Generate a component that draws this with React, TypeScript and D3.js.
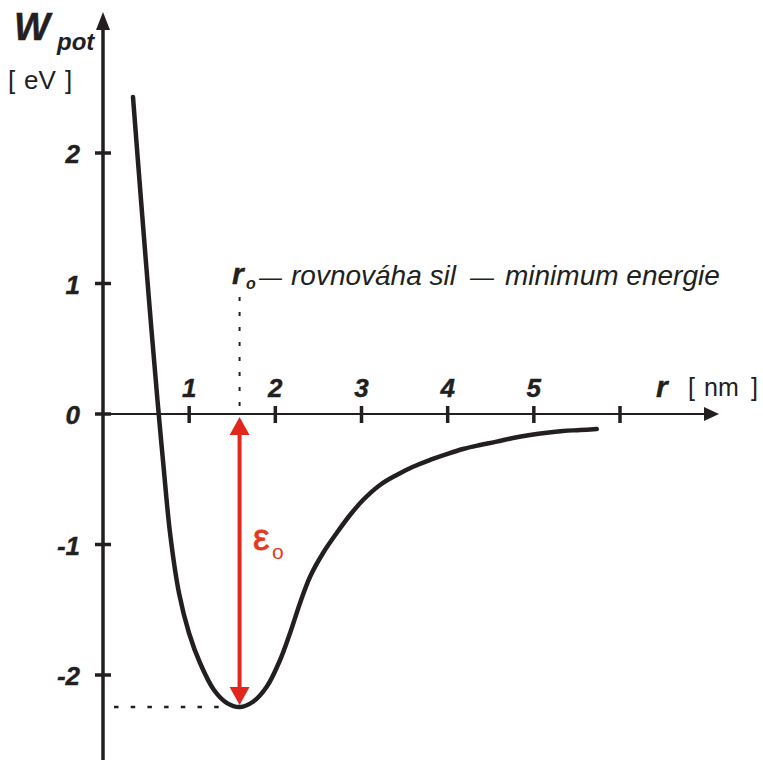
import React from "react";
import * as d3 from "d3";

// Potential energy curve W_pot(r)
const rValues = [0.348, 0.441, 0.534, 0.632, 0.702, 0.778, 0.882, 0.998, 1.126, 1.288, 1.439, 1.59, 1.741, 1.9, 2.055, 2.171, 2.287, 2.403, 2.554, 2.712, 2.867, 3.018, 3.215, 3.409, 3.598, 3.795, 3.989, 4.178, 4.375, 4.569, 4.758, 4.956, 5.15, 5.339, 5.536, 5.73];
const wValues = [2.429, 1.64, 0.874, 0.107, -0.398, -0.912, -1.372, -1.678, -1.908, -2.115, -2.215, -2.245, -2.205, -2.09, -1.885, -1.678, -1.448, -1.247, -1.065, -0.912, -0.774, -0.659, -0.544, -0.467, -0.404, -0.352, -0.307, -0.268, -0.238, -0.212, -0.184, -0.161, -0.143, -0.13, -0.123, -0.115];

const xTicks = [1, 2, 3, 4, 5, 6];
const xTickLabels = ["1", "2", "3", "4", "5", ""];
const yTicks = [2, 1, 0, -1, -2];
const yTickLabels = ["2", "1", "0", "-1", "-2"];

const r0 = 1.585;
const wMin = -2.245;

const INK = "#231f20";
const RED = "#e2271e";
const FONT = "'Liberation Sans', Arial, sans-serif";

export default function App() {
  const x = d3.scaleLinear().domain([0, 6]).range([103, 620]);
  const y = d3.scaleLinear().domain([-2, 2]).range([675, 153]);

  const pts: [number, number][] = rValues.map((r, i) => [r, wValues[i]]);
  const line = d3
    .line<[number, number]>()
    .x((d) => x(d[0]))
    .y((d) => y(d[1]))
    .curve(d3.curveCatmullRom.alpha(0.5));

  const x0 = x(0);
  const y0 = y(0);
  const ax = x(r0);
  const yTop = y0 + 3;
  const yBot = y(wMin) - 2;
  const ah = 18;
  const aw = 10;

  return (
    <svg
      width={763}
      height={762}
      style={{ position: "absolute", left: 0, top: 0, background: "#fff" }}
      fontFamily={FONT}
    >
      {/* y axis */}
      <line x1={x0} y1={760} x2={x0} y2={26} stroke={INK} strokeWidth={3.5} />
      <polygon points={`${x0},12 ${x0 - 7},30 ${x0 + 7},30`} fill={INK} />
      {/* x axis */}
      <line x1={x0} y1={y0} x2={708} y2={y0} stroke={INK} strokeWidth={2.2} />
      <polygon points={`719,${y0} 704,${y0 - 7} 704,${y0 + 7}`} fill={INK} />

      {/* y ticks */}
      {yTicks.map((t, i) => (
        <g key={"yt" + t}>
          <line x1={x0 - 8} x2={x0 + 8} y1={y(t)} y2={y(t)} stroke={INK} strokeWidth={3.5} />
          <text
            x={80}
            y={y(t) + 10}
            textAnchor="end"
            fontSize={26}
            fontWeight="bold"
            fontStyle="italic"
            fill={INK}
            stroke={INK}
            strokeWidth={0.4}
          >
            {yTickLabels[i]}
          </text>
        </g>
      ))}

      {/* x ticks */}
      {xTicks.map((t, i) => (
        <g key={"xt" + t}>
          <line x1={x(t)} x2={x(t)} y1={y0 - 8} y2={y0 + 9} stroke={INK} strokeWidth={3.5} />
          <text
            x={x(t)}
            y={397}
            textAnchor="middle"
            fontSize={26}
            fontWeight="bold"
            fontStyle="italic"
            fill={INK}
            stroke={INK}
            strokeWidth={0.4}
          >
            {xTickLabels[i]}
          </text>
        </g>
      ))}

      {/* dotted guides */}
      <line x1={ax} x2={ax} y1={297} y2={412} stroke={INK} strokeWidth={2} strokeDasharray="4 11" />
      <line x1={114} x2={226} y1={y(wMin)} y2={y(wMin)} stroke={INK} strokeWidth={2.5} strokeDasharray="4.5 12.2" />

      {/* curve */}
      <path d={line(pts) || ""} fill="none" stroke={INK} strokeWidth={4.5} strokeLinecap="round" />

      {/* red double arrow */}
      <line x1={ax} x2={ax} y1={yTop + ah - 2} y2={yBot - ah + 2} stroke={RED} strokeWidth={4} />
      <polygon points={`${ax},${yTop} ${ax - aw},${yTop + ah} ${ax + aw},${yTop + ah}`} fill={RED} />
      <polygon points={`${ax},${yBot} ${ax - aw},${yBot - ah} ${ax + aw},${yBot - ah}`} fill={RED} />
      <text x={253} y={550} fontSize={37} fill="#e33a1f" stroke="#e33a1f" strokeWidth={0.8}>
        ε
      </text>
      <text x={272} y={559} fontSize={21} fill="#e33a1f">
        o
      </text>

      {/* axis titles */}
      <text x={14} y={40} fontSize={38} fontWeight="bold" fontStyle="italic" fill={INK} stroke={INK} strokeWidth={0.5}>
        W
      </text>
      <text x={57} y={50} fontSize={24} fontWeight="bold" fontStyle="italic" fill={INK}>
        pot
      </text>
      <text x={8} y={89} fontSize={26} fill={INK}>
        [
      </text>
      <text x={24} y={89} fontSize={26} fill={INK}>
        eV
      </text>
      <text x={65} y={89} fontSize={26} fill={INK}>
        ]
      </text>

      <text x={656} y={397} fontSize={30} fontWeight="bold" fontStyle="italic" fill={INK} stroke={INK} strokeWidth={0.4}>
        r
      </text>
      <text x={688} y={396} fontSize={25} fill={INK}>
        [
      </text>
      <text x={704} y={396} fontSize={25} fill={INK}>
        nm
      </text>
      <text x={751} y={396} fontSize={25} fill={INK}>
        ]
      </text>

      {/* annotation */}
      <text x={232} y={284} fontSize={30} fontWeight="bold" fontStyle="italic" fill={INK} stroke={INK} strokeWidth={0.4}>
        r
      </text>
      <text x={246} y={289} fontSize={16} fontStyle="italic" fontWeight="bold" fill={INK}>
        o
      </text>
      <text x={259} y={285} fontSize={23} fontStyle="italic" fill={INK}>
        —
      </text>
      <text x={291} y={285} fontSize={28} fontStyle="italic" fill={INK}>
        rovnováha sil
      </text>
      <text x={470} y={285} fontSize={24} fontStyle="italic" fill={INK}>
        —
      </text>
      <text x={505} y={285} fontSize={28} fontStyle="italic" fill={INK}>
        minimum energie
      </text>
    </svg>
  );
}
